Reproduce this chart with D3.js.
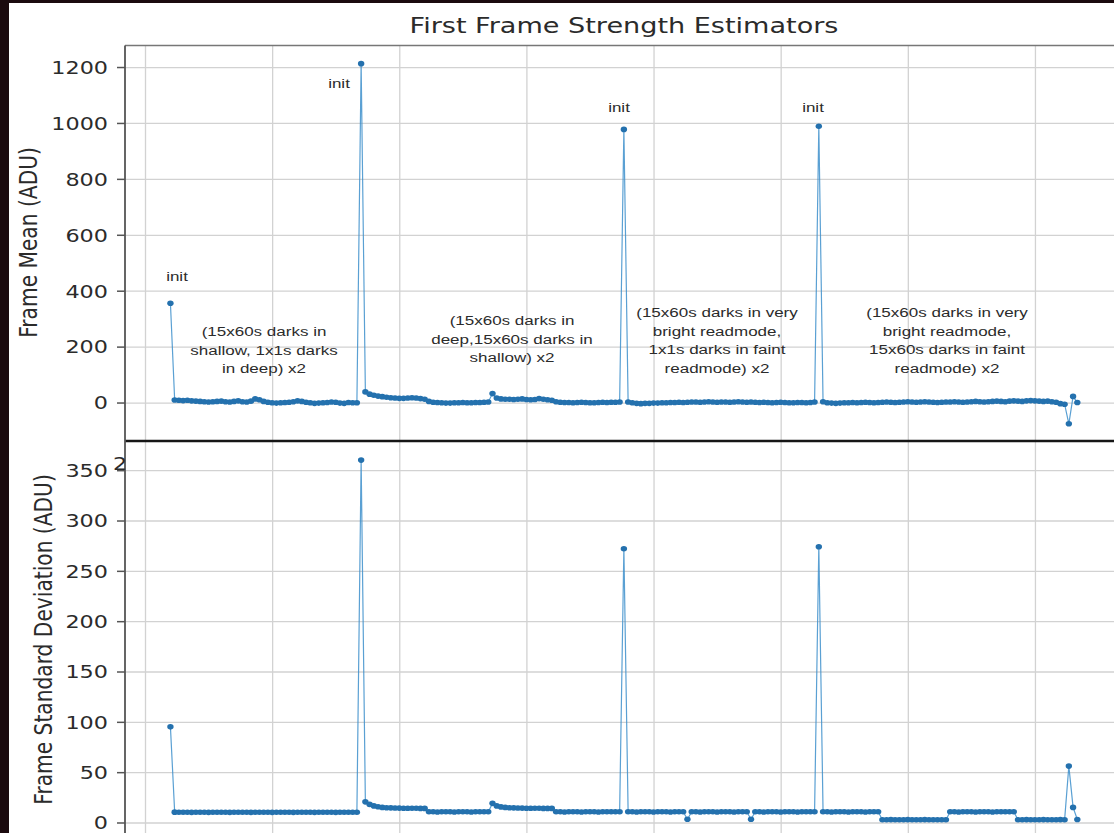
<!DOCTYPE html>
<html>
<head>
<meta charset="utf-8">
<script src="https://cdn.jsdelivr.net/npm/d3@7"></script>
<style>
  html, body { margin: 0; padding: 0; background: #fff; }
  svg { display: block; }
</style>
</head>
<body>
<script>
// one value per frame, frames numbered from frameStart
const frameStart = 6;

const meanADU = [
  355,
  9, 8, 7, 8, 6, 5, 4, 3, 2, 3, 4, 5, 3, 2, 4, 6, 3, 2, 5, 13, 10, 4, 1, -1, -2, -1, 0, 1, 3, 6, 4, 1, -1, -3, -2, -1, 0, 2, 1, -2, -3, 0, -1, -1,
  1212,
  38, 30, 26, 23, 21, 19, 17, 16, 15, 15, 16, 17, 16, 14, 12,
  4, 1, 0, -1, -2, -2, -1, -1, 0, -1, -1, 0, 0, 1, 2,
  32, 16, 13, 12, 12, 11, 12, 13, 11, 10, 11, 14, 12, 10, 8,
  3, 1, 0, 0, -1, 0, 1, 0, -1, -1, 0, 1, 0, 1, 1, 2,
  977,
  2, -1, -3, -4, -3, -3, -2, -2, -1, -1, 0, 0, 1, 0, 1, 2, 2, 1, 2, 3, 2, 1, 2, 2, 1, 2, 3, 2, 1, 2, 1, 0, 1, 0, -1, 0, 1, 0, -1, -1, 0, 0, -1, 0, 2,
  988,
  3, -1, -2, -3, -2, -1, -1, 0, -1, 0, 1, 0, -1, 0,
  1, 2, 1, 0, 1, 2, 3, 2, 1, 2, 3, 2, 1, 0, 1, 2,
  2, 3, 2, 1, 2, 3, 4, 3, 2, 3, 4, 5, 4, 3, 5, 6,
  5, 4, 6, 7, 6, 5, 4, 5, 3, 1, -4, -6,
  -76, 22, 0
];

const stdADU = [
  95,
  10.3, 10.2, 10.2, 10.2, 10.1, 10.2, 10.2, 10.2, 10.1, 10.2, 10.2, 10.2, 10.2, 10.1, 10.2, 10.2, 10.2, 10.2, 10.1, 10.2, 10.2, 10.2,
  10.2, 10.1, 10.2, 10.2, 10.2, 10.2, 10.1, 10.2, 10.2, 10.2, 10.2, 10.1, 10.2, 10.2, 10.2, 10.2, 10.1, 10.2, 10.2, 10.2, 10.2, 10.2,
  360,
  20.5, 18, 16.5, 15.6, 15, 14.7, 14.5, 14.4, 14.3, 14.2, 14.2, 14.1, 14.1, 14, 14,
  10.6, 10.6, 10.5, 10.6, 10.6, 10.6, 10.5, 10.6, 10.6, 10.6, 10.5, 10.6, 10.6, 10.6, 10.6,
  19, 16.5, 15.5, 15, 14.7, 14.5, 14.4, 14.3, 14.2, 14.2, 14.1, 14.1, 14, 14, 14,
  10.6, 10.6, 10.5, 10.6, 10.6, 10.6, 10.5, 10.6, 10.6, 10.6, 10.5, 10.6, 10.6, 10.6, 10.6, 10.6,
  272,
  10.6, 10.6, 10.5, 10.6, 10.6, 10.6, 10.5, 10.6, 10.6, 10.6, 10.5, 10.6, 10.6, 10.6, 3.2,
  10.6, 10.6, 10.5, 10.6, 10.6, 10.6, 10.5, 10.6, 10.6, 10.6, 10.5, 10.6, 10.6, 10.6, 3.2,
  10.6, 10.6, 10.5, 10.6, 10.6, 10.6, 10.5, 10.6, 10.6, 10.6, 10.5, 10.6, 10.6, 10.6, 10.6,
  274,
  10.6, 10.6, 10.5, 10.6, 10.6, 10.6, 10.5, 10.6, 10.6, 10.6, 10.5, 10.6, 10.6, 10.6,
  2.8, 2.8, 2.9, 2.8, 2.8, 2.8, 2.9, 2.8, 2.8, 2.8, 2.9, 2.8, 2.8, 2.8, 2.8, 2.8,
  10.6, 10.6, 10.5, 10.6, 10.6, 10.6, 10.5, 10.6, 10.6, 10.6, 10.5, 10.6, 10.6, 10.6, 10.6, 10.6,
  2.8, 2.8, 2.9, 2.8, 2.8, 2.8, 2.9, 2.8, 2.8, 2.8, 2.9, 2.8,
  56, 15, 3
];

const xTicks = [0, 30, 60, 90, 120, 150, 180, 210];
const meanTicks = [0, 200, 400, 600, 800, 1000, 1200];
const stdTicks = [0, 50, 100, 150, 200, 250, 300, 350];

const titleText = "First Frame Strength Estimators";
const meanLabel = "Frame Mean (ADU)";
const stdLabel = "Frame Standard Deviation (ADU)";
const initLabel = "init";
const blockNotes = [
  ["(15x60s darks in", "shallow, 1x1s darks", "in deep) x2"],
  ["(15x60s darks in", "deep,15x60s darks in", "shallow) x2"],
  ["(15x60s darks in very", "bright readmode,", "1x1s darks in faint", "readmode) x2"],
  ["(15x60s darks in very", "bright readmode,", "15x60s darks in faint", "readmode) x2"]
];

// ---- layout ----
const W = 1114, H = 833;
const STRETCH = 1.26;          // the picture is a bit wider than tall
const blue = "#1f77b4";
const txt = "#2b2b2b";
const left = 125, right = 1119.7;
const topPanel = { y0: 45.5, y1: 440.5 };
const botPanel = { y0: 441.5, y1: 838.6 };

const frames = d3.range(frameStart, frameStart + meanADU.length);

const x = d3.scaleLinear().domain([-4.72, 230]).range([left, right]);
const yMean = d3.scaleLinear().domain([-134, 1277]).range([440, topPanel.y0]);
const yStd = d3.scaleLinear().domain([-16, 378]).range([botPanel.y1, 442]);

const svg = d3.select("body").append("svg")
  .attr("width", W).attr("height", H)
  .style("font-family", "'DejaVu Sans', sans-serif");

svg.append("rect").attr("width", W).attr("height", H).attr("fill", "#fff");

function stretchedText(g, px, py, str, size, anchor, family, rotate) {
  return g.append("text")
    .attr("transform", `translate(${px},${py}) scale(${STRETCH},1)` + (rotate ? ` rotate(${rotate})` : ""))
    .attr("text-anchor", anchor)
    .style("font-family", family)
    .style("font-size", size + "px")
    .attr("fill", txt)
    .text(str);
}

function drawPanel(panel, y, values, ticks, name) {
  const g = svg.append("g");
  const h = panel.y1 - panel.y0;

  g.append("clipPath").attr("id", "clip-" + name)
    .append("rect").attr("x", left).attr("y", panel.y0).attr("width", W - left).attr("height", h);

  // grid
  g.append("g")
    .attr("transform", `translate(0,${panel.y1})`)
    .call(d3.axisBottom(x).tickValues(xTicks).tickSize(-h).tickFormat(""))
    .call(a => a.select(".domain").remove())
    .call(a => a.selectAll("line").attr("stroke", "#d2d2d2").attr("stroke-width", 1.3));

  g.append("g")
    .attr("transform", `translate(${left},0)`)
    .call(d3.axisLeft(y).tickValues(ticks).tickSize(-(W - left)).tickFormat(""))
    .call(a => a.select(".domain").remove())
    .call(a => a.selectAll("line").attr("stroke", "#d2d2d2").attr("stroke-width", 1.3));

  // series
  const plot = g.append("g").attr("clip-path", `url(#clip-${name})`);
  const line = d3.line().x((d, i) => x(frames[i])).y(d => y(d));
  plot.append("path")
    .datum(values)
    .attr("d", line)
    .attr("fill", "none")
    .attr("stroke", "#3d8fcb")
    .attr("stroke-opacity", 0.85)
    .attr("stroke-width", 1.2);
  plot.selectAll("ellipse")
    .data(values)
    .join("ellipse")
    .attr("cx", (d, i) => x(frames[i]))
    .attr("cy", d => y(d))
    .attr("rx", 3.2)
    .attr("ry", 2.8)
    .attr("fill", "#2471ae");

  // y ticks and labels
  const ax = g.append("g")
    .attr("transform", `translate(${left},0)`)
    .call(d3.axisLeft(y).tickValues(ticks).tickSize(8).tickFormat(d3.format("d")));
  ax.select(".domain").remove();
  ax.selectAll("line").attr("stroke", "#555").attr("stroke-width", 1.5);
  ax.selectAll("text")
    .attr("x", null).attr("dy", "0.36em")
    .attr("transform", `translate(-17,0) scale(${STRETCH},1)`)
    .attr("text-anchor", "end")
    .attr("fill", txt)
    .style("font-family", "'DejaVu Sans', sans-serif")
    .style("font-size", "17.7px");

  return g;
}

drawPanel(topPanel, yMean, meanADU, meanTicks, "mean");
drawPanel(botPanel, yStd, stdADU, stdTicks, "std");

// spines
svg.append("line").attr("x1", left).attr("x2", W).attr("y1", topPanel.y0).attr("y2", topPanel.y0)
  .attr("stroke", "#777").attr("stroke-width", 1.5);
svg.append("line").attr("x1", left).attr("x2", W).attr("y1", 441).attr("y2", 441)
  .attr("stroke", "#161616").attr("stroke-width", 2.6);
svg.append("line").attr("x1", left).attr("x2", left).attr("y1", topPanel.y0).attr("y2", H)
  .attr("stroke", "#555").attr("stroke-width", 1.8);

// titles
const labels = svg.append("g");
stretchedText(labels, 624, 33, titleText, 21.5, "middle", "'DejaVu Sans', sans-serif");
stretchedText(labels, 37, 242.5, meanLabel, 20.2, "middle", "'DejaVu Sans', sans-serif", -90);
stretchedText(labels, 52, 639.5, stdLabel, 20.2, "middle", "'DejaVu Sans', sans-serif", -90);
stretchedText(labels, 113, 470, "2", 17.7, "start", "'DejaVu Sans', sans-serif");

// "init" marks above the first frames of each block
const noteFont = "'Liberation Sans', Arial, sans-serif";
stretchedText(labels, 177, 281, initLabel, 13.5, "middle", noteFont);
stretchedText(labels, 339, 88, initLabel, 13.5, "middle", noteFont);
stretchedText(labels, 619, 111.5, initLabel, 13.5, "middle", noteFont);
stretchedText(labels, 813, 111.5, initLabel, 13.5, "middle", noteFont);

// block descriptions
const notePos = [[264, 336], [512, 325], [717, 317], [947, 317]];
blockNotes.forEach((lines, k) => {
  lines.forEach((s, j) => {
    stretchedText(labels, notePos[k][0], notePos[k][1] + j * 18.7, s, 13.5, "middle", noteFont);
  });
});

// dark frame around the screenshot
svg.append("rect").attr("x", 0).attr("y", 0).attr("width", 9).attr("height", H).attr("fill", "#1b0a0e");
svg.append("rect").attr("x", 0).attr("y", 0).attr("width", W).attr("height", 3).attr("fill", "#1b0a0e");
</script>
</body>
</html>
